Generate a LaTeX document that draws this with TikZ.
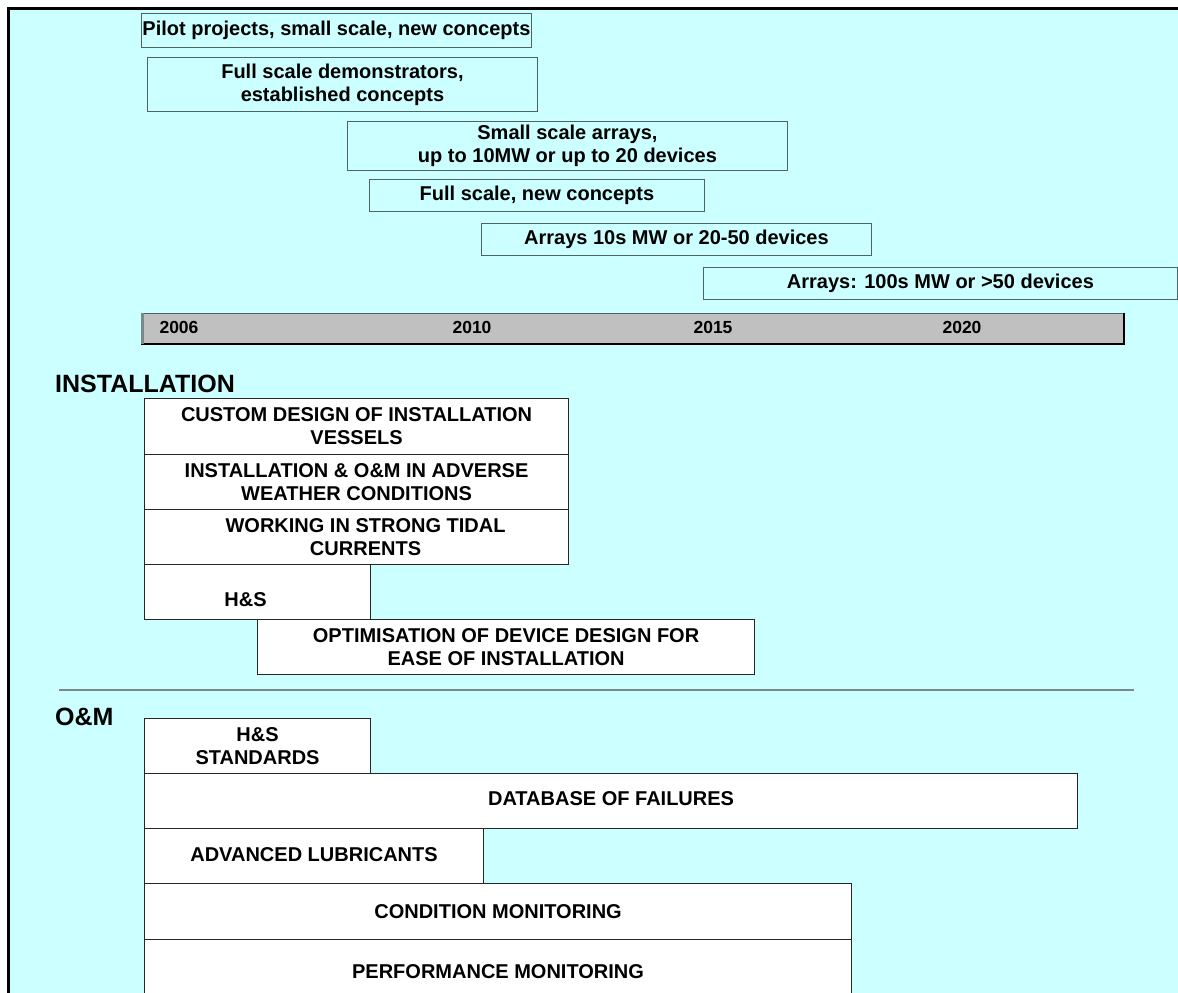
\documentclass[tikz,border=0pt]{standalone}
\usepackage{fontspec}
\setmainfont{Liberation Sans}
\usetikzlibrary{positioning}
\definecolor{BgCyan}   {HTML}{CCFFFF}
\definecolor{BarGray}  {HTML}{C0C0C0}
\definecolor{EdgeGray} {HTML}{4F6363}
\definecolor{RuleGray} {HTML}{7A8A8A}
\definecolor{TxtMain}  {HTML}{000000}

\begin{document}
\begin{tikzpicture}[
  x=1pt, y=-1pt,
  every node/.style={font=\bfseries\fontsize{20}{23}\selectfont, text=TxtMain},
  phase/.style={draw=EdgeGray, fill=BgCyan, line width=0.9pt, inner sep=0pt,
               anchor=north west, align=center},
  task/.style={phase, draw=black!85, fill=white, line width=1.1pt},
  yearlbl/.style={font=\bfseries\fontsize{17.5}{20}\selectfont},
  head/.style={anchor=west, inner sep=0pt, font=\bfseries\fontsize{25}{29}\selectfont},
]
  \useasboundingbox (0,0) rectangle (1178,993);
  \clip (0,0) rectangle (1178,993);
  \fill[BgCyan] (8,8) rectangle (1178,993);
  \draw[line width=3pt, line cap=rect] (8.5,993) -- (8.5,8.5) -- (1178,8.5);

  % development phases
  \node[phase, minimum width=390pt, minimum height=34pt] (pilot) at (141,13)
    {Pilot projects, small scale, new concepts};
  \node[phase, minimum width=390pt, minimum height=54pt] (demo) at (147,57)
    {Full scale demonstrators,\\ established concepts};
  \node[phase, minimum width=440pt, minimum height=49pt] (small) at (347,121)
    {Small scale arrays,\\ up to 10MW or up to 20 devices};
  \node[phase, minimum width=335pt, minimum height=32pt] (fullnew) at (369,179)
    {Full scale, new concepts};
  \node[phase, minimum width=390pt, minimum height=32pt] (tens) at (481,223)
    {Arrays 10s MW or 20-50 devices};
  \node[phase, minimum width=474pt, minimum height=32pt] (hundreds) at (703,267)
    {Arrays: 100s MW or >50 devices};

  % time axis
  \node[phase, fill=BarGray, minimum width=982pt, minimum height=30pt] (axis) at (141,313) {};
  \draw[line width=1.6pt, black] (axis.north east) -- (axis.south east) -- (axis.south west);
  \draw[line width=3pt, RuleGray] ([xshift=1.5pt]axis.north west) -- ([xshift=1.5pt]axis.south west);
  \foreach \yr/\xpos in {2006/179, 2010/472, 2015/713, 2020/962}
    \node[yearlbl] (y\yr) at (\xpos,327) {\yr};

  % installation
  \node[head] (instlbl) at (55,384) {INSTALLATION};
  \node[task, minimum width=424pt, minimum height=56pt] (custom) at (144,398)
    {CUSTOM DESIGN OF INSTALLATION\\ VESSELS};
  \node[task, minimum width=424pt, minimum height=55pt] (adverse) at (144,454)
    {INSTALLATION \& O\&M IN ADVERSE\\ WEATHER CONDITIONS};
  \node[task, minimum width=424pt, minimum height=55pt] (tidal) at (144,509)
    {\hspace*{18pt}WORKING IN STRONG TIDAL\\ \hspace*{18pt}CURRENTS};
  \node[task, minimum width=226pt, minimum height=55pt, text height=28pt, text depth=0pt] (hsinst) at (144,564)
    {H\&S\hspace*{24pt}};
  \node[task, minimum width=497pt, minimum height=55pt] (optim) at (257,619)
    {OPTIMISATION OF DEVICE DESIGN FOR\\ EASE OF INSTALLATION};

  % separator
  \coordinate (sepL) at (59,690);
  \coordinate (sepR) at (1134,690);
  \draw[RuleGray, line width=1.3pt] (sepL) -- (sepR);

  % operation and maintenance
  \node[head] (omlbl) at (55,717) {O\&M};
  \node[task, minimum width=226pt, minimum height=55pt] (hsom) at (144,718)
    {H\&S\\ STANDARDS};
  \node[task, minimum width=933pt, minimum height=55pt] (database) at (144,773)
    {\raisebox{5pt}{DATABASE OF FAILURES}};
  \node[task, minimum width=339pt, minimum height=55pt] (lubric) at (144,828)
    {\raisebox{3pt}{ADVANCED LUBRICANTS}};
  \node[task, minimum width=707pt, minimum height=56pt] (condmon) at (144,883)
    {CONDITION MONITORING};
  \node[task, minimum width=707pt, minimum height=64pt] (perfmon) at (144,939)
    {PERFORMANCE MONITORING};
\end{tikzpicture}
\end{document}
